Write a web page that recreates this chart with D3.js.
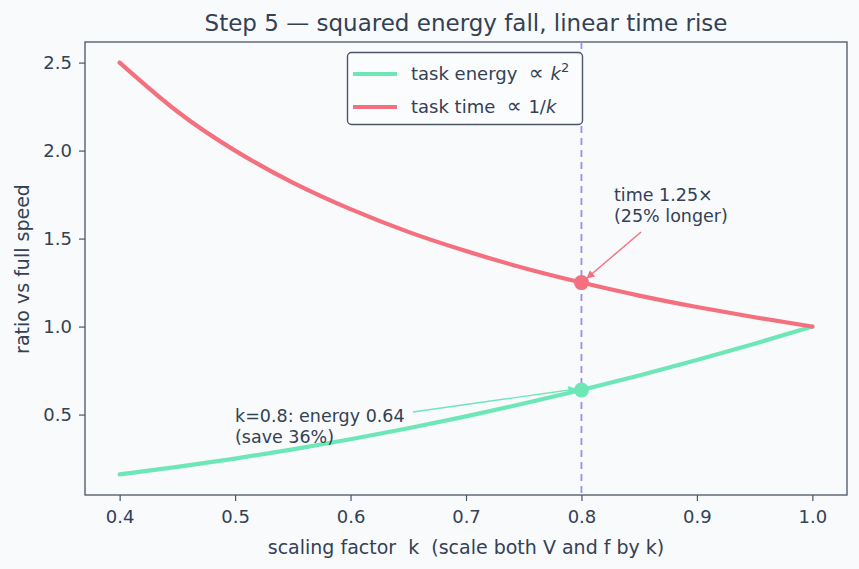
<!DOCTYPE html>
<html>
<head>
<meta charset="utf-8">
<script src="https://cdn.jsdelivr.net/npm/d3@7"></script>
<style>
  body { margin: 0; background: #f8fafc; }
  svg text { font-family: "DejaVu Sans", sans-serif; white-space: pre; }
</style>
</head>
<body>
<svg width="859" height="569"></svg>
<script>
// values
const kValues = [0.4, 0.45, 0.5, 0.55, 0.6, 0.65, 0.7, 0.75, 0.8, 0.85, 0.9, 0.95, 1.0];
const energyValues = [0.16, 0.2025, 0.25, 0.3025, 0.36, 0.4225, 0.49, 0.5625, 0.64, 0.7225, 0.81, 0.9025, 1.0];
const timeValues = [2.5, 2.222, 2.0, 1.818, 1.667, 1.538, 1.429, 1.333, 1.25, 1.176, 1.111, 1.053, 1.0];
const xTicks = [0.4, 0.5, 0.6, 0.7, 0.8, 0.9, 1.0];
const yTicks = [0.5, 1.0, 1.5, 2.0, 2.5];
const markK = 0.8;
const markEnergy = 0.64;
const markTime = 1.25;

const ink = "#334155";
const green = "#6ee7b7";
const red = "#f5707f";
const purple = "#9b8ef0";

const svg = d3.select("svg");
const m = { left: 85, right: 847, top: 42, bottom: 495 };

const x = d3.scaleLinear().domain([0.37, 1.03]).range([m.left, m.right]);
const y = d3.scaleLinear().domain([0.043, 2.617]).range([m.bottom, m.top]);

svg.append("rect").attr("width", 859).attr("height", 569).attr("fill", "#f8fafc");

// axes
const xAxis = svg.append("g")
    .attr("transform", `translate(0,${m.bottom})`)
    .call(d3.axisBottom(x).tickValues(xTicks).tickFormat(d3.format(".1f")).tickSizeOuter(0).tickSize(6).tickPadding(7));
const yAxis = svg.append("g")
    .attr("transform", `translate(${m.left},0)`)
    .call(d3.axisLeft(y).tickValues(yTicks).tickFormat(d3.format(".1f")).tickSizeOuter(0).tickSize(6).tickPadding(7));
[xAxis, yAxis].forEach(a => {
    a.select(".domain").remove();
    a.selectAll("line").attr("stroke", "#4b5563").attr("stroke-width", 1.2);
    a.selectAll("text").attr("fill", ink).attr("font-size", 18)
        .attr("font-family", "DejaVu Sans, sans-serif");
});
xAxis.selectAll("text").attr("dy", "0.82em");

// frame
svg.append("rect")
    .attr("x", m.left).attr("y", m.top)
    .attr("width", m.right - m.left).attr("height", m.bottom - m.top)
    .attr("fill", "none").attr("stroke", "#4b5563").attr("stroke-width", 1.3);

// dashed marker line
svg.append("line")
    .attr("x1", x(markK)).attr("x2", x(markK))
    .attr("y1", m.top).attr("y2", m.bottom)
    .attr("stroke", purple).attr("stroke-width", 1.8).attr("stroke-dasharray", "7,5");

const line = d3.line().x((d, i) => x(kValues[i])).y(d => y(d)).curve(d3.curveNatural);

svg.append("path").datum(energyValues).attr("d", line)
    .attr("fill", "none").attr("stroke", green).attr("stroke-width", 4.2).attr("stroke-linecap", "round");
svg.append("path").datum(timeValues).attr("d", line)
    .attr("fill", "none").attr("stroke", red).attr("stroke-width", 4.2).attr("stroke-linecap", "round");

svg.append("circle").attr("cx", x(markK)).attr("cy", y(markEnergy)).attr("r", 7.5).attr("fill", green);
svg.append("circle").attr("cx", x(markK)).attr("cy", y(markTime)).attr("r", 7.5).attr("fill", red);

// arrowheads
const defs = svg.append("defs");
[["arrG", green], ["arrR", red]].forEach(([id, c]) => {
    defs.append("marker").attr("id", id).attr("viewBox", "0 0 10 10")
        .attr("refX", 10).attr("refY", 5).attr("markerWidth", 11).attr("markerHeight", 8)
        .attr("markerUnits", "userSpaceOnUse").attr("orient", "auto")
        .append("path").attr("d", "M0,0 L10,5 L0,10 z").attr("fill", c);
});

// annotations
svg.append("line")
    .attr("x1", 413).attr("y1", 412)
    .attr("x2", x(markK) - 5).attr("y2", y(markEnergy) - 1)
    .attr("stroke", green).attr("stroke-width", 1.4).attr("marker-end", "url(#arrG)");
svg.append("line")
    .attr("x1", 641).attr("y1", 232)
    .attr("x2", x(markK) + 5).attr("y2", y(markTime) - 4)
    .attr("stroke", red).attr("stroke-width", 1.4).attr("marker-end", "url(#arrR)");

const ann = (tx, ty, lines) => {
    const t = svg.append("text").attr("x", tx).attr("y", ty)
        .attr("fill", ink).attr("font-size", 17.5);
    lines.forEach((s, i) => t.append("tspan").attr("x", tx).attr("dy", i ? 21 : 0).text(s));
};
ann(235, 422, ["k=0.8: energy 0.64", "(save 36%)"]);
ann(614, 201, ["time 1.25\u00d7", "(25% longer)"]);

// legend
const lg = svg.append("g");
lg.append("rect").attr("x", 347.5).attr("y", 52.5).attr("width", 235).attr("height", 72).attr("rx", 4)
    .attr("fill", "#fbfcfe").attr("stroke", "#4b5563").attr("stroke-width", 1.4);
const legendItems = [
    { c: green, label: "task energy  ", sup: "2", y: 74 },
    { c: red, label: "task time  ", sup: null, y: 107 }
];
legendItems.forEach(it => {
    lg.append("line").attr("x1", 353).attr("x2", 397).attr("y1", it.y).attr("y2", it.y)
        .attr("stroke", it.c).attr("stroke-width", 4.2);
    const t = lg.append("text").attr("x", 411).attr("y", it.y + 6).attr("fill", ink).attr("font-size", 18);
    t.append("tspan").text(it.label);
    t.append("tspan").attr("font-size", 21).text("\u221d ");
    if (it.sup) {
        t.append("tspan").style("font-style", "italic").text("k");
        t.append("tspan").attr("dy", -8).attr("font-size", 13).text(it.sup);
    } else {
        t.append("tspan").text("1/");
        t.append("tspan").style("font-style", "italic").text("k");
    }
});

// titles
svg.append("text").attr("x", (m.left + m.right) / 2).attr("y", 31).attr("text-anchor", "middle")
    .attr("fill", ink).attr("font-size", 23).text("Step 5 \u2014 squared energy fall, linear time rise");
svg.append("text").attr("x", (m.left + m.right) / 2).attr("y", 554).attr("text-anchor", "middle")
    .attr("fill", ink).attr("font-size", 19).text("scaling factor  k  (scale both V and f by k)");
svg.append("text").attr("transform", "translate(29,269) rotate(-90)").attr("text-anchor", "middle")
    .attr("fill", ink).attr("font-size", 19).text("ratio vs full speed");
</script>
</body>
</html>
